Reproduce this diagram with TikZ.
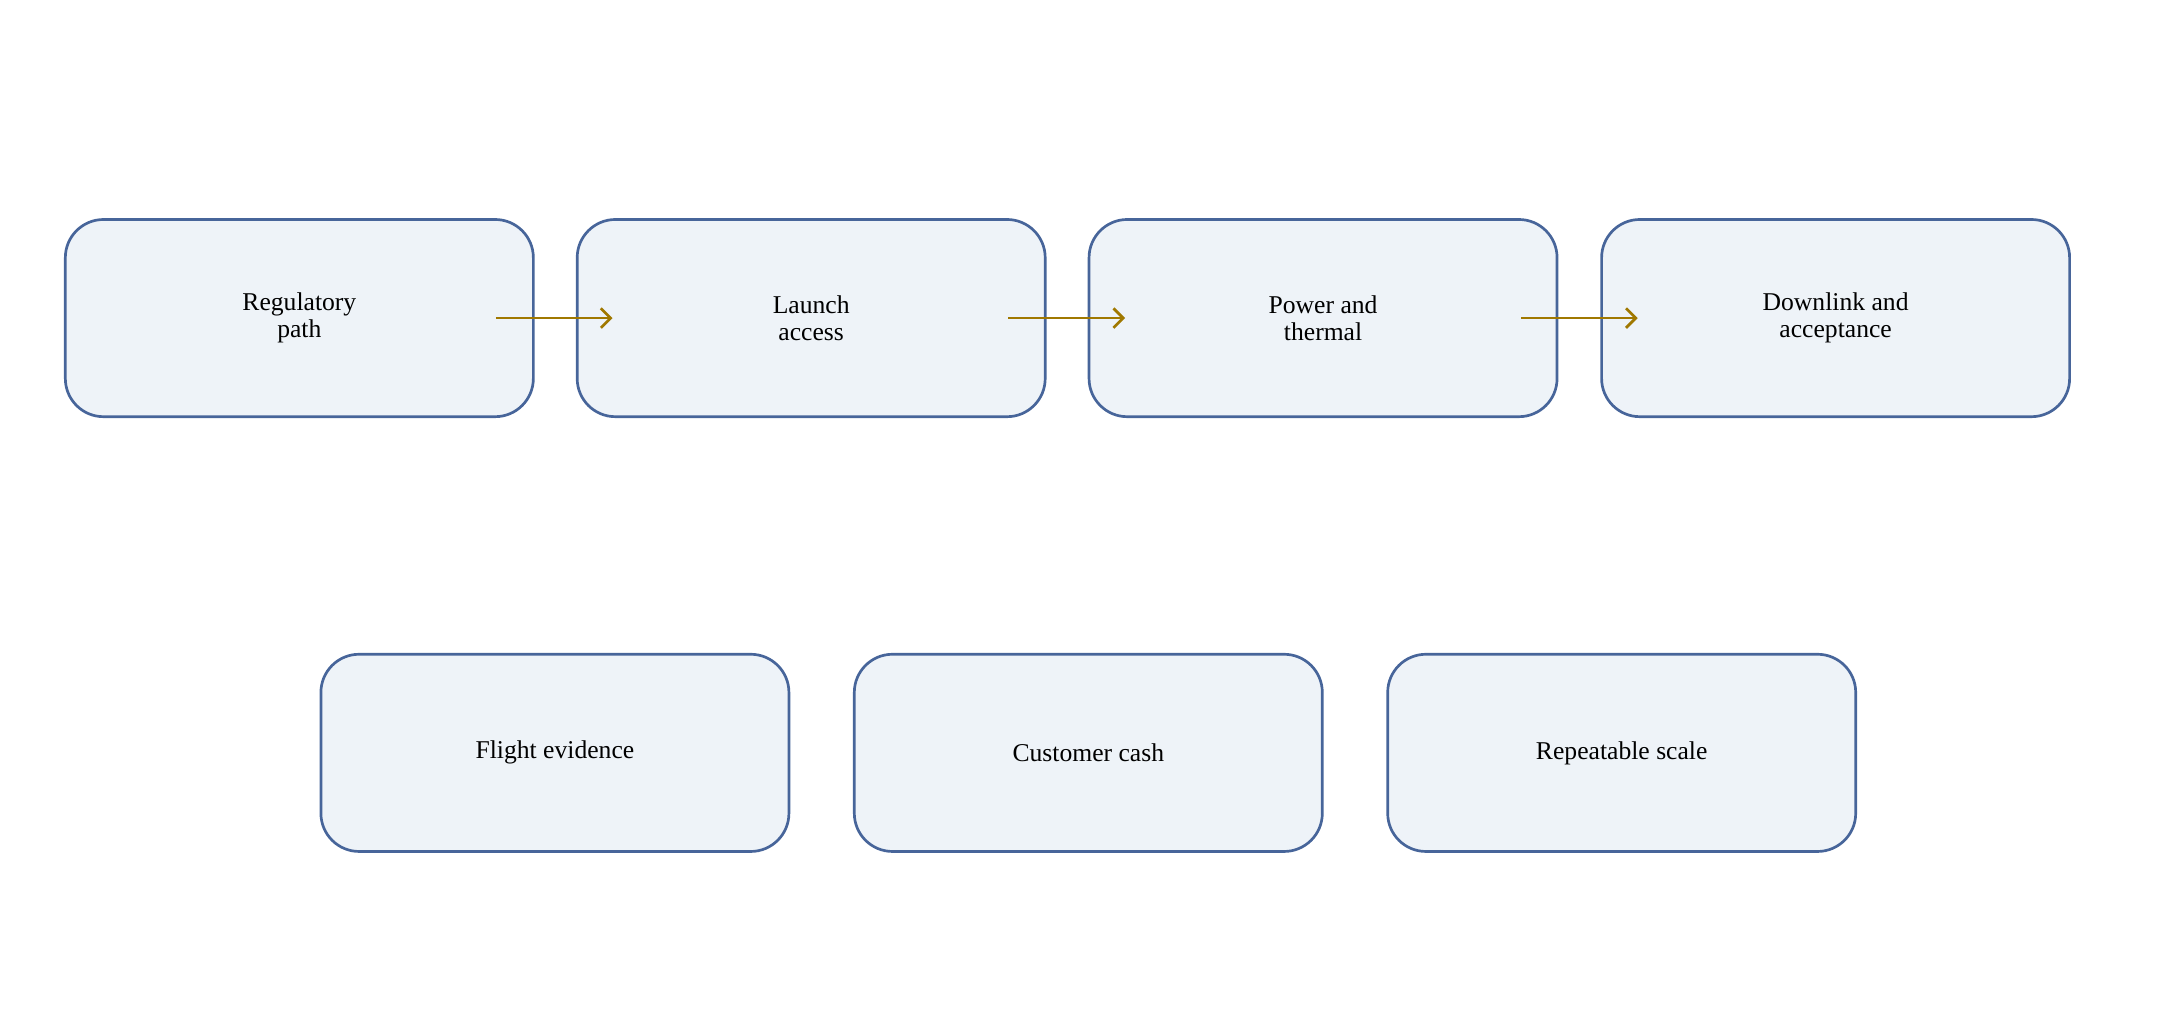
\documentclass[tikz,border=0pt]{standalone}
\usepackage{fontspec}
\setmainfont{Liberation Serif}
\usetikzlibrary{arrows.meta}
\definecolor{bd}{HTML}{47659A}
\definecolor{bf}{HTML}{EEF3F8}
\definecolor{ar}{HTML}{A07800}
\begin{document}
\begin{tikzpicture}[x=0.02cm,y=-0.02cm,
 box/.style={draw=bd,fill=bf,line width=1.1pt,rounded corners=0.55cm,minimum width=6.74cm,minimum height=2.84cm,align=center,font=\fontsize{10.5}{11}\selectfont},
 arr/.style={draw=ar,line width=1.1pt,-{Straight Barb[length=4pt]}}]
\useasboundingbox (0,0) rectangle (1568,744);
\node[box] (a) at (215.5,229) {Regulatory\\path};
\node[box] (b) at (584,229) {Launch\\access};
\node[box] (c) at (952.5,229) {Power and\\thermal};
\node[box] (d) at (1321.5,229) {Downlink and\\acceptance};
\node[box] (e) at (399.5,542) {Flight evidence};
\node[box] (f) at (783.5,542) {Customer cash};
\node[box] (g) at (1167.5,542) {Repeatable scale};
\coordinate (a1) at (357,229); \coordinate (b0) at (441,229);
\coordinate (b1) at (726,229); \coordinate (c0) at (810,229);
\coordinate (c1) at (1095,229); \coordinate (d0) at (1179,229);
\draw[arr] (a1) -- (b0);
\draw[arr] (b1) -- (c0);
\draw[arr] (c1) -- (d0);
\end{tikzpicture}
\end{document}
